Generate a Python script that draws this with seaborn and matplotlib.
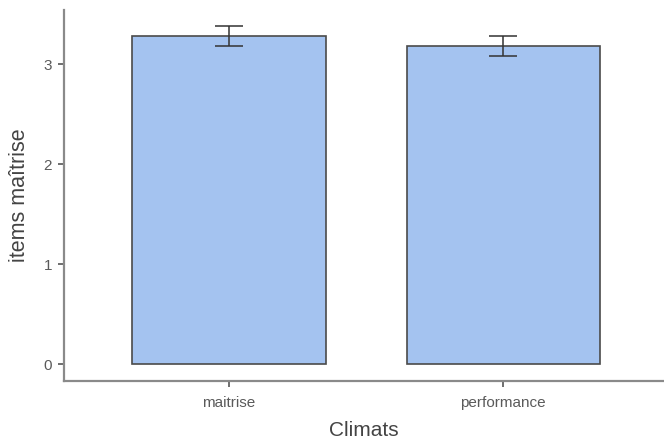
import matplotlib
matplotlib.use("Agg")
import matplotlib.pyplot as plt
import seaborn as sns
import pandas as pd

categories = ["maitrise", "performance"]
means = [3.28, 3.18]
errors = [0.10, 0.10]
x_label = "Climats"
y_label = "items maîtrise"
y_ticks = [0, 1, 2, 3]

sns.set_style("white")
plt.rcParams['font.family'] = ['Liberation Sans', 'DejaVu Sans']

df = pd.DataFrame({"Climats": categories, "value": means})

fig = plt.figure(figsize=(6.64, 4.43), dpi=100)
ax = fig.add_axes([64/664, 62/443, 600/664, 371/443])

sns.barplot(data=df, x="Climats", y="value", color="#a4c3f0", saturation=1,
            edgecolor="#4a4a4a", linewidth=1.2, width=0.705, errorbar=None, ax=ax)
ax.errorbar(x=list(range(len(categories))), y=means, yerr=errors, fmt="none",
            ecolor="#333333", elinewidth=1.1, capsize=10, capthick=1.1)

ax.set_ylim(-0.17, 3.54)
ax.set_xlim(-0.6, 1.585)
ax.set_yticks(y_ticks)
ax.set_xlabel(x_label, fontsize=15, color="#444444", labelpad=8)
ax.set_ylabel(y_label, fontsize=15.5, color="#444444", labelpad=10)
ax.tick_params(axis="both", colors="#555555", labelsize=11, length=4.5, width=1.2,
               direction="out", left=True, bottom=True)
ax.tick_params(axis="x", pad=6)
ax.tick_params(axis="y", pad=4)
for lbl in ax.get_xticklabels() + ax.get_yticklabels():
    lbl.set_color("#5a5a5a")
for s in ["top", "right"]:
    ax.spines[s].set_visible(False)
for s in ["left", "bottom"]:
    ax.spines[s].set_color("#8a8a8a")
    ax.spines[s].set_linewidth(1.6)

fig.savefig("out.png", dpi=100)
